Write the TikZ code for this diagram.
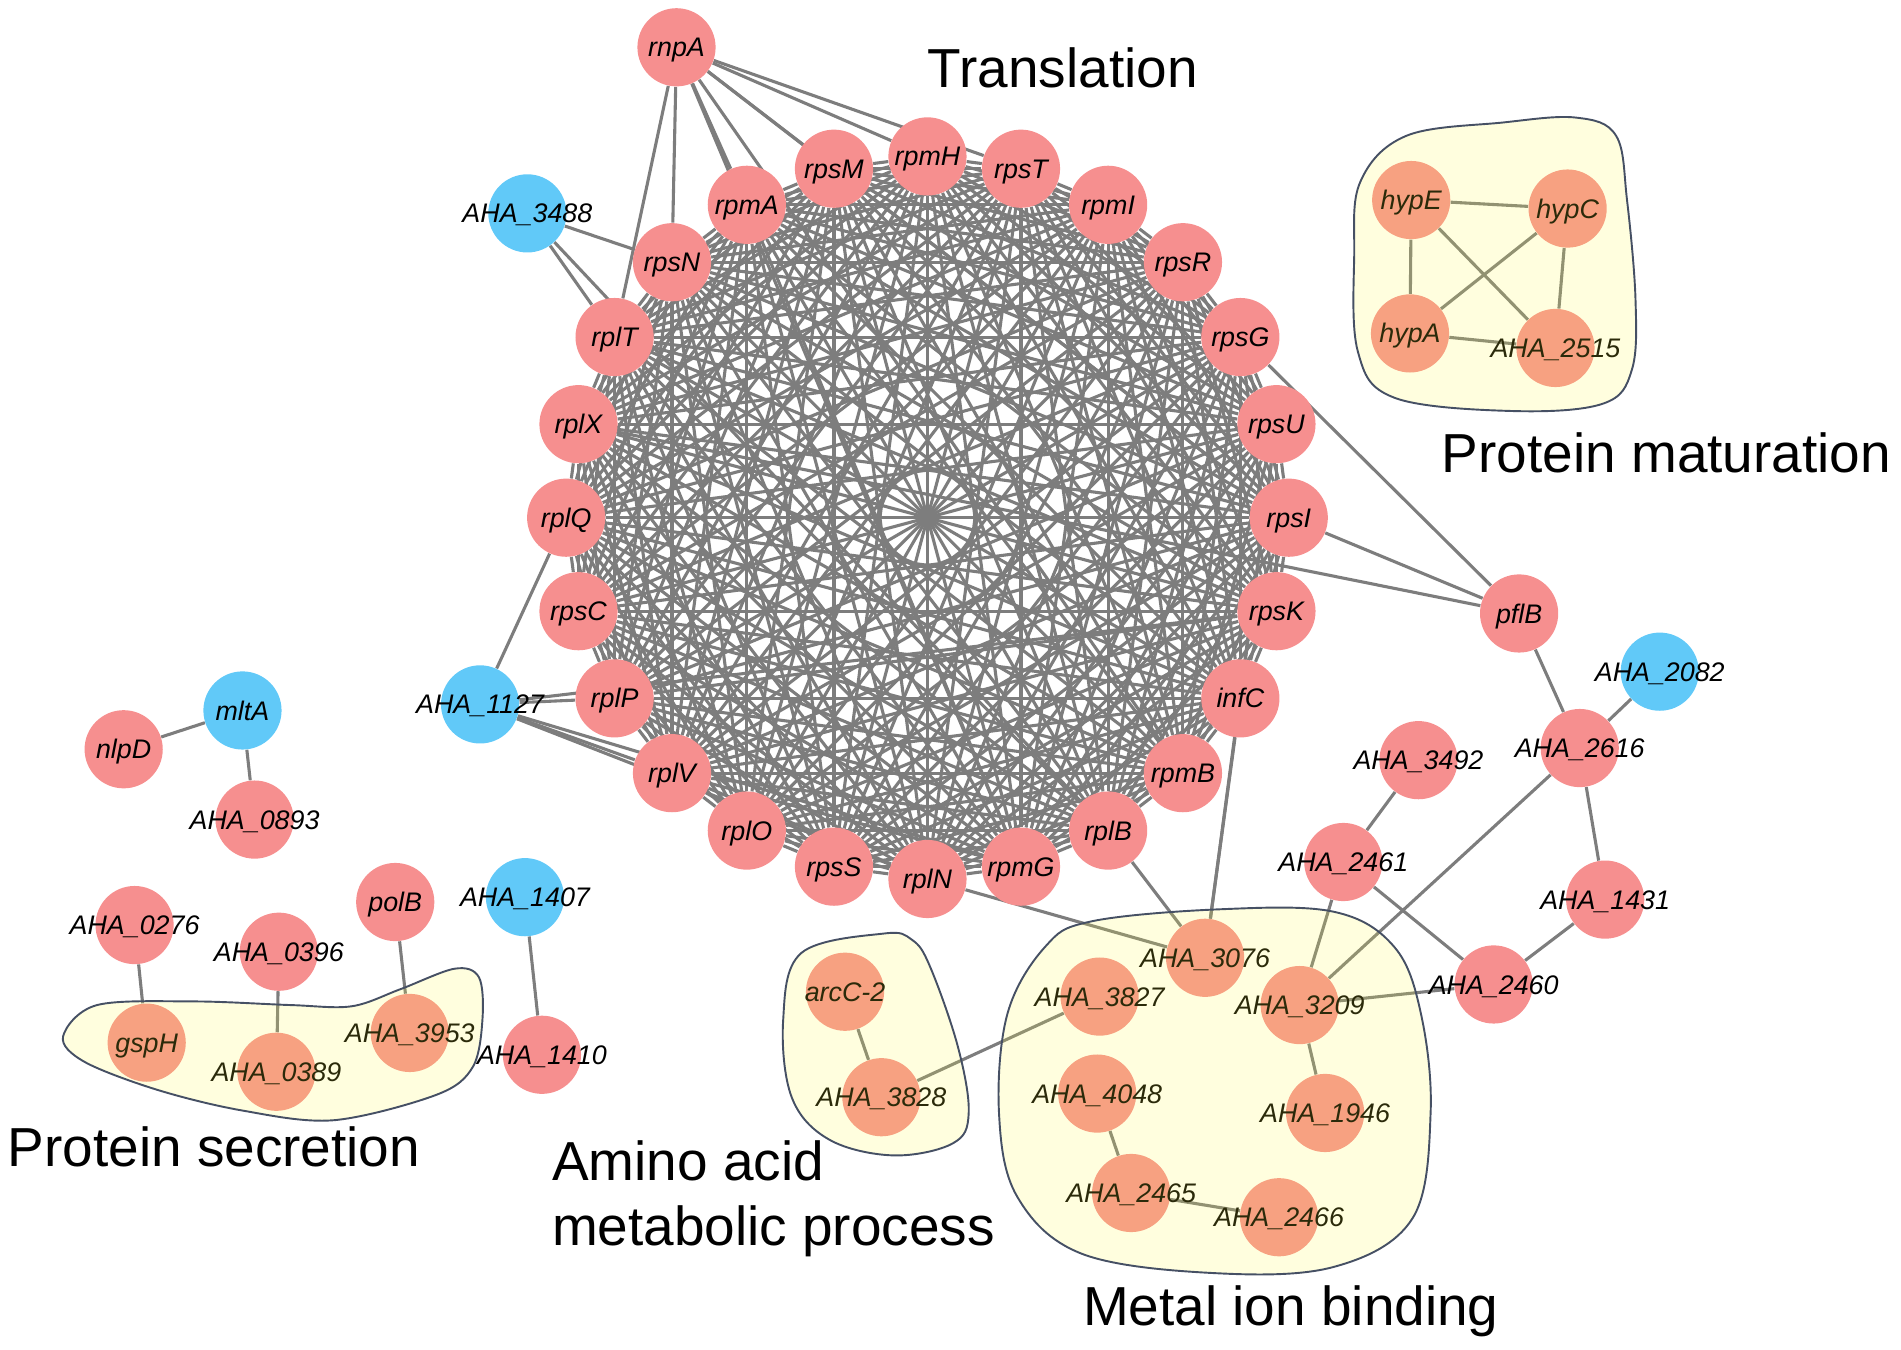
\documentclass[tikz,border=0pt]{standalone}
\usepackage{fontspec}
\setmainfont{Liberation Sans}
\usetikzlibrary{backgrounds}
\definecolor{pinkn}{RGB}{246,143,143}
\definecolor{bluen}{RGB}{97,201,248}
\definecolor{linkgray}{RGB}{125,125,125}
\definecolor{blobline}{RGB}{70,80,100}
\definecolor{blobfill}{RGB}{255,250,60}
\newcommand{\gn}[1]{\makebox[0pt]{#1}}
\newcommand{\ringlist}{rpmH,rpsT,rpmI,rpsR,rpsG,rpsU,rpsI,rpsK,infC,rpmB,rplB,rpmG,rplN,rpsS,rplO,rplV,rplP,rpsC,rplQ,rplX,rplT,rpsN,rpmA,rpsM}

\begin{document}
\begin{tikzpicture}[x=0.02cm,y=-0.02cm,
  roundnode/.style={circle, inner sep=0pt, minimum size=1.29cm, text height=9pt, text depth=0pt, font=\fontsize{12.6}{14}\selectfont\itshape},
  pinknode/.style={roundnode, fill=pinkn},
  bluenode/.style={roundnode, fill=bluen},
  link/.style={draw=linkgray, line width=1.45pt},
  blob/.style={draw=blobline, line width=0.9pt, fill=blobfill, fill opacity=0.17},
  title/.style={anchor=base west, inner sep=0pt, font=\fontsize{25.8}{30}\selectfont}]
  \useasboundingbox (0,0) rectangle (1568,1113);

  \begin{scope}[shift={(765,427)}]
    \foreach \n [count=\k from 0] in \ringlist
      \node[pinknode] (\n) at ({15*\k-90}:298) {\gn{\n}};
  \end{scope}

  \node[pinknode] (rnpA) at (558,39) {\gn{rnpA}};
  \node[bluenode] (a3488) at (435,176) {\gn{AHA\_3488}};
  \node[bluenode] (a1127) at (396,581) {\gn{AHA\_1127}};
  \node[bluenode] (mltA) at (200,586) {\gn{mltA}};
  \node[pinknode] (nlpD) at (102,618) {\gn{nlpD}};
  \node[pinknode] (a0893) at (210,676) {\gn{AHA\_0893}};
  \node[pinknode] (a0276) at (111,763) {\gn{AHA\_0276}};
  \node[pinknode] (a0396) at (230,785) {\gn{AHA\_0396}};
  \node[pinknode] (polB) at (326,744) {\gn{polB}};
  \node[bluenode] (a1407) at (433,740) {\gn{AHA\_1407}};
  \node[pinknode] (gspH) at (121,860) {\gn{gspH}};
  \node[pinknode] (a0389) at (228,884) {\gn{AHA\_0389}};
  \node[pinknode] (a3953) at (338,852) {\gn{AHA\_3953}};
  \node[pinknode] (a1410) at (447,870) {\gn{AHA\_1410}};
  \node[pinknode] (arcC) at (697,818) {\gn{arcC-2}};
  \node[pinknode] (a3828) at (727,905) {\gn{AHA\_3828}};
  \node[pinknode] (a3827) at (907,822) {\gn{AHA\_3827}};
  \node[pinknode] (a3076) at (994,790) {\gn{AHA\_3076}};
  \node[pinknode] (a3209) at (1072,829) {\gn{AHA\_3209}};
  \node[pinknode] (a4048) at (905,902) {\gn{AHA\_4048}};
  \node[pinknode] (a1946) at (1093,918) {\gn{AHA\_1946}};
  \node[pinknode] (a2465) at (933,984) {\gn{AHA\_2465}};
  \node[pinknode] (a2466) at (1055,1004) {\gn{AHA\_2466}};
  \node[pinknode] (pflB) at (1253,506) {\gn{pflB}};
  \node[bluenode] (a2082) at (1369,554) {\gn{AHA\_2082}};
  \node[pinknode] (a2616) at (1303,617) {\gn{AHA\_2616}};
  \node[pinknode] (a3492) at (1170,627) {\gn{AHA\_3492}};
  \node[pinknode] (a2461) at (1108,711) {\gn{AHA\_2461}};
  \node[pinknode] (a1431) at (1324,742) {\gn{AHA\_1431}};
  \node[pinknode] (a2460) at (1232,812) {\gn{AHA\_2460}};
  \node[pinknode] (hypE) at (1164,165) {\gn{hypE}};
  \node[pinknode] (hypC) at (1293,172) {\gn{hypC}};
  \node[pinknode] (hypA) at (1163,275) {\gn{hypA}};
  \node[pinknode] (a2515) at (1283,287) {\gn{AHA\_2515}};

  \begin{pgfonlayer}{background}
    \foreach \a [count=\i] in \ringlist {
      \foreach \b [count=\j] in \ringlist {
        \ifnum\i<\j \draw[link] (\a)--(\b); \fi
      }
    }
    \foreach \b in {rplT,rpsN,rpmA,rpmG,rpmB,rpsM,rpsI,rpmH,rpsT}
      \draw[link] (rnpA)--(\b);
    \draw[link] (a3488)--(rplT);
    \draw[link] (a3488)--(rplB);
    \draw[link] (a3488)--(rpsN);
    \draw[link] (a1127)--(rplQ);
    \draw[link] (a1127)--(rplP);
    \draw[link] (a1127)--(rpsK);
    \draw[link] (a1127)--(rplV);
    \draw[link] (a1127)--(rplN);
    \draw[link] (a1127)--(rpmG);
    \draw[link] (rpsG)--(pflB);
    \draw[link] (rpsI)--(pflB);
    \draw[link] (rplX)--(pflB);
    \draw[link] (pflB)--(a2616);
    \draw[link] (a2082)--(a2616);
    \draw[link] (a2616)--(a1431);
    \draw[link] (a1431)--(a2460);
    \draw[link] (a2616)--(a3209);
    \draw[link] (a3492)--(a2461);
    \draw[link] (a2461)--(a3209);
    \draw[link] (a2461)--(a2460);
    \draw[link] (a2460)--(a3209);
    \draw[link] (a3076)--(rplB);
    \draw[link] (a3076)--(infC);
    \draw[link] (a3076)--(rpsU);
    \draw[link] (a3076)--(rplN);
    \draw[link] (a3827)--(a3828);
    \draw[link] (arcC)--(a3828);
    \draw[link] (a3209)--(a1946);
    \draw[link] (a4048)--(a2465);
    \draw[link] (a2465)--(a2466);
    \draw[link] (hypE)--(hypC);
    \draw[link] (hypE)--(hypA);
    \draw[link] (hypE)--(a2515);
    \draw[link] (hypC)--(hypA);
    \draw[link] (hypC)--(a2515);
    \draw[link] (hypA)--(a2515);
    \draw[link] (a0276)--(gspH);
    \draw[link] (a0396)--(a0389);
    \draw[link] (polB)--(a3953);
    \draw[link] (a1407)--(a1410);
    \draw[link] (nlpD)--(mltA);
    \draw[link] (mltA)--(a0893);
  \end{pgfonlayer}

  \draw[blob] plot[smooth cycle, tension=0.6] coordinates {(1122,150) (1160,112) (1240,101) (1300,97) (1333,112) (1342,165) (1349,247) (1346,305) (1322,333) (1247,339) (1150,328) (1120,290) (1117,210)};
  \draw[blob] plot[smooth cycle, tension=0.55] coordinates {(52,855) (80,829) (160,826) (240,829) (290,830) (330,816) (375,799) (395,806) (398,840) (390,880) (360,903) (275,924) (200,916) (130,899) (70,876)};
  \draw[blob] plot[smooth cycle, tension=0.6] coordinates {(729,770) (752,775) (767,797) (790,863) (799,918) (786,943) (737,953) (684,940) (653,905) (646,841) (661,786)};
  \draw[blob] plot[smooth cycle, tension=0.6] coordinates {(862,781) (900,760) (1006,750) (1100,752) (1150,781) (1172,836) (1180,918) (1165,1005) (1100,1045) (1000,1050) (892,1034) (839,987) (824,918) (831,836)};

  \node[title] (trans) at (765,72) {Translation};
  \node[title] (matur) at (1189,390) {Protein maturation};
  \node[title] (secr) at (6,962) {Protein secretion};
  \node[title] (amino1) at (455,974) {Amino acid};
  \node[title] (amino2) at (455,1027) {metabolic process};
  \node[title] (metal) at (893,1093) {Metal ion binding};
\end{tikzpicture}
\end{document}
